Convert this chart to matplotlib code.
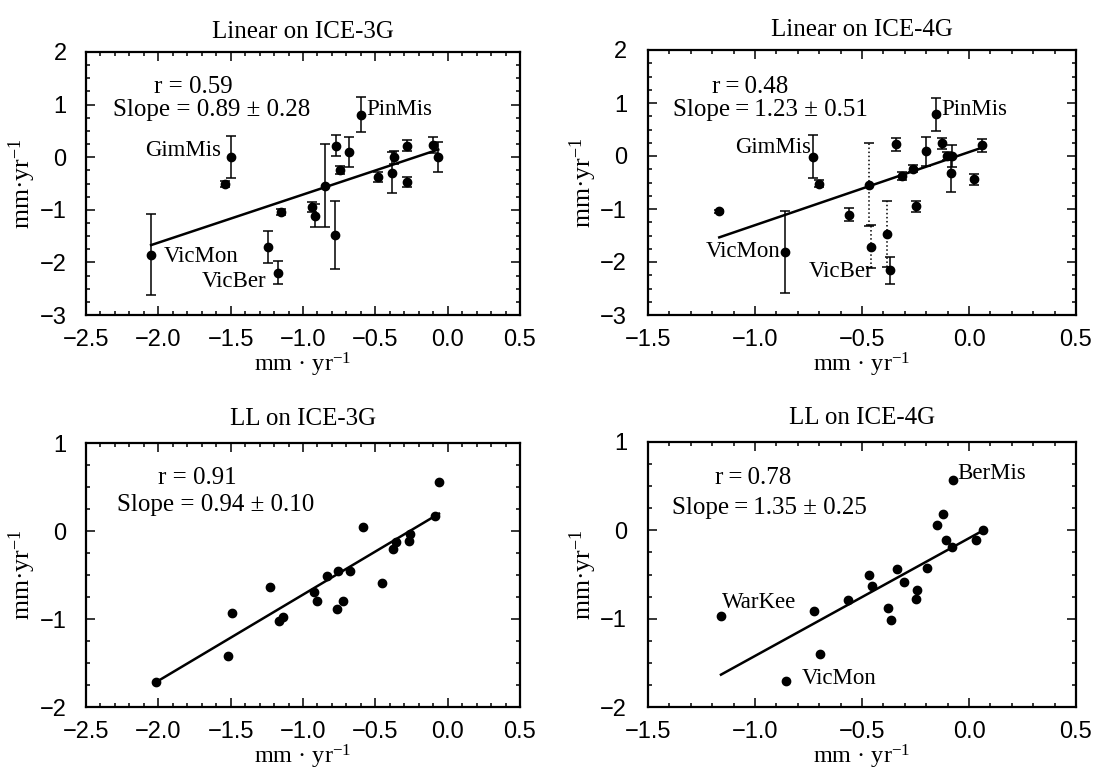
import numpy as np
import matplotlib
matplotlib.use("Agg")
import matplotlib.pyplot as plt
from matplotlib.ticker import MultipleLocator

plt.rcParams['font.family'] = ['Liberation Serif', 'DejaVu Serif']
plt.rcParams['mathtext.fontset'] = 'custom'
plt.rcParams['mathtext.rm'] = 'Liberation Serif'
plt.rcParams['mathtext.it'] = 'Liberation Serif:italic'

# ---- data (mm/yr) ----
# Linear on ICE-3G
lin3_x = [-2.05, -1.50, -1.54, -1.15, -1.24, -1.17, -0.94, -0.92, -0.85, -0.78, -0.774,
          -0.745, -0.68, -0.60, -0.48, -0.387, -0.37, -0.28, -0.28, -0.10, -0.065]
lin3_y = [-1.85, 0.0, -0.51, -1.04, -1.71, -2.20, -0.95, -1.11, -0.54, -1.48, 0.22,
          -0.24, 0.10, 0.81, -0.38, -0.30, 0.0, 0.22, -0.47, 0.23, 0.0]
lin3_err = [0.77, 0.40, 0.06, 0.05, 0.31, 0.22, 0.10, 0.22, 0.79, 0.64, 0.20,
            0.08, 0.28, 0.33, 0.10, 0.39, 0.12, 0.10, 0.10, 0.15, 0.28]
lin3_fit = (0.915, 0.205)
lin3_names = {'GimMis': 1, 'VicMon': 0, 'VicBer': 5, 'PinMis': 13}

# Linear on ICE-4G
lin4_x = [-1.167, -0.86, -0.727, -0.70, -0.56, -0.466, -0.46, -0.382, -0.37, -0.34, -0.314,
          -0.26, -0.25, -0.203, -0.154, -0.128, -0.104, -0.08, -0.086, 0.023, 0.06]
lin4_y = [-1.04, -1.81, -0.01, -0.52, -1.11, -0.54, -1.71, -1.47, -2.16, 0.22, -0.38,
          -0.24, -0.95, 0.09, 0.79, 0.24, 0.0, 0.0, -0.32, -0.44, 0.20]
lin4_err = [0.03, 0.78, 0.41, 0.06, 0.12, 0.79, 0.40, 0.62, 0.26, 0.12, 0.08,
            0.07, 0.10, 0.27, 0.31, 0.10, 0.08, 0.20, 0.36, 0.10, 0.12]
lin4_dotted = [5, 6, 7]
lin4_fit = (1.379, 0.074)
lin4_names = {'GimMis': 2, 'VicMon': 1, 'VicBer': 8, 'PinMis': 14}

# LL on ICE-3G
ll3_x = [-2.018, -1.52, -1.493, -1.228, -1.164, -1.136, -0.922, -0.90, -0.832, -0.768, -0.756,
         -0.726, -0.676, -0.583, -0.457, -0.38, -0.357, -0.27, -0.26, -0.088, -0.06]
ll3_y = [-1.72, -1.42, -0.93, -0.64, -1.02, -0.98, -0.69, -0.80, -0.51, -0.89, -0.46,
         -0.79, -0.45, 0.05, -0.59, -0.20, -0.13, -0.11, -0.03, 0.17, 0.56]
ll3_fit = (0.979, 0.256)

# LL on ICE-4G
ll4_x = [-1.159, -0.857, -0.724, -0.696, -0.564, -0.466, -0.455, -0.377, -0.364, -0.338, -0.304,
         -0.248, -0.244, -0.195, -0.148, -0.123, -0.107, -0.081, -0.076, 0.031, 0.067]
ll4_y = [-0.97, -1.70, -0.91, -1.40, -0.79, -0.50, -0.63, -0.88, -1.01, -0.44, -0.58,
         -0.78, -0.67, -0.43, 0.06, 0.19, -0.11, -0.19, 0.57, -0.11, 0.0]
ll4_fit = (1.333, -0.089)
ll4_names = {'WarKee': 0, 'VicMon': 1, 'BerMis': 18}

YUNIT = r'mm·yr$^{-1}$'
XUNIT = r'mm · yr$^{-1}$'
TS = '\u2009'  # thin space

# label offsets (points) and alignment for the named stations
name_style = {
    (0, 'GimMis'): ((-7, 5), 'right'), (0, 'VicMon'): ((9, -1.5), 'left'),
    (0, 'VicBer'): ((-9, -6), 'right'), (0, 'PinMis'): ((4, 3.5), 'left'),
    (1, 'GimMis'): ((-2, 6.5), 'right'), (1, 'VicMon'): ((-3.5, 0), 'right'),
    (1, 'VicBer'): ((-11.5, -1), 'right'), (1, 'PinMis'): ((3.5, 3.5), 'left'),
    (3, 'WarKee'): ((0.7, 10), 'left'), (3, 'VicMon'): ((11.5, 1.5), 'left'),
    (3, 'BerMis'): ((3.5, 5), 'left'),
}


def setup_axes(ax, xlim, ylim, ypad):
    ax.set_xlim(*xlim)
    ax.set_ylim(*ylim)
    ax.xaxis.set_major_locator(MultipleLocator(0.5))
    ax.xaxis.set_minor_locator(MultipleLocator(0.1))
    ax.yaxis.set_major_locator(MultipleLocator(1))
    ax.yaxis.set_minor_locator(MultipleLocator(0.25))
    ax.xaxis.set_major_formatter(plt.FuncFormatter(lambda v, p: f'{v:.1f}'.replace('-', '\u2212')))
    ax.tick_params(which='both', direction='in', top=True, right=True, width=1.1,
                   labelfontfamily='Liberation Sans', labelsize=17)
    ax.tick_params(which='major', length=6.5)
    ax.tick_params(which='minor', length=3.2)
    ax.tick_params(axis='x', pad=10)
    ax.tick_params(axis='y', pad=ypad)
    for s in ax.spines.values():
        s.set_linewidth(1.6)
    ax.set_xlabel(XUNIT, fontsize=17.5, labelpad=0)
    ax.set_ylabel(YUNIT, fontsize=18.5, labelpad=1)


def draw_fit(ax, x, fit):
    xs = np.array([min(x), max(x)])
    ax.plot(xs, np.polyval(fit, xs), color='k', lw=1.8, zorder=3)


fig = plt.figure(figsize=(10.97, 7.8), dpi=100)
W, H = 1097, 780


def add_ax(left, right, top, bottom):
    return fig.add_axes([left / W, 1 - bottom / H, (right - left) / W, (bottom - top) / H])


ax_tl = add_ax(86, 520, 52, 315)
ax_tr = add_ax(648, 1076, 50, 315)
ax_bl = add_ax(86, 520, 443, 707)
ax_br = add_ax(648, 1076, 442, 707)
axes = [ax_tl, ax_tr, ax_bl, ax_br]

# top row: linear models with error bars
for ax, x, y, e, fit, dotted in [
        (ax_tl, lin3_x, lin3_y, lin3_err, lin3_fit, []),
        (ax_tr, lin4_x, lin4_y, lin4_err, lin4_fit, lin4_dotted)]:
    for i in range(len(x)):
        cont = ax.errorbar(x[i], y[i], yerr=e[i], fmt='o', color='k', ms=6,
                           elinewidth=1.1, capsize=3.5, capthick=1.1, zorder=4)
        if i in dotted:
            cont[2][0].set_linestyle(':')
    draw_fit(ax, x, fit)

# bottom row: LL models, points only
for ax, x, y, fit in [(ax_bl, ll3_x, ll3_y, ll3_fit), (ax_br, ll4_x, ll4_y, ll4_fit)]:
    ax.plot(x, y, 'o', color='k', ms=6, zorder=4)
    draw_fit(ax, x, fit)

setup_axes(ax_tl, (-2.5, 0.5), (-3, 2), 14)
setup_axes(ax_tr, (-1.5, 0.5), (-3, 2), 15)
setup_axes(ax_bl, (-2.5, 0.5), (-2, 1), 14)
setup_axes(ax_br, (-1.5, 0.5), (-2, 1), 15)

ax_tl.set_title('Linear on ICE-3G', fontsize=18, pad=10)
ax_tr.set_title('Linear on ICE-4G', fontsize=18, pad=10)
ax_bl.set_title('LL on ICE-3G', fontsize=18, pad=13)
ax_br.set_title('LL on ICE-4G', fontsize=18, pad=13)

stats = [('r = 0.59', 'Slope = 0.89 ± 0.28', (0.247, 0.867), (0.062, 0.78)),
         (f'r{TS}={TS}0.48', f'Slope{TS}={TS}1.23 ± 0.51', (0.238, 0.86), (0.058, 0.774)),
         ('r = 0.91', 'Slope = 0.94 ± 0.10', (0.256, 0.867), (0.071, 0.765)),
         (f'r{TS}={TS}0.78', f'Slope{TS}={TS}1.35 ± 0.25', (0.245, 0.864), (0.056, 0.75))]
for ax, (rt, st, rp, sp) in zip(axes, stats):
    ax.text(*rp, rt, transform=ax.transAxes, ha='center', va='center', fontsize=18)
    ax.text(*sp, st, transform=ax.transAxes, ha='left', va='center', fontsize=18)

for k, ax, x, y, names in [(0, ax_tl, lin3_x, lin3_y, lin3_names),
                           (1, ax_tr, lin4_x, lin4_y, lin4_names),
                           (3, ax_br, ll4_x, ll4_y, ll4_names)]:
    for name, i in names.items():
        off, ha = name_style[(k, name)]
        ax.annotate(name, (x[i], y[i]), textcoords='offset points', xytext=off,
                    ha=ha, va='center', fontsize=16.5)

fig.savefig('out.png', dpi=100)
